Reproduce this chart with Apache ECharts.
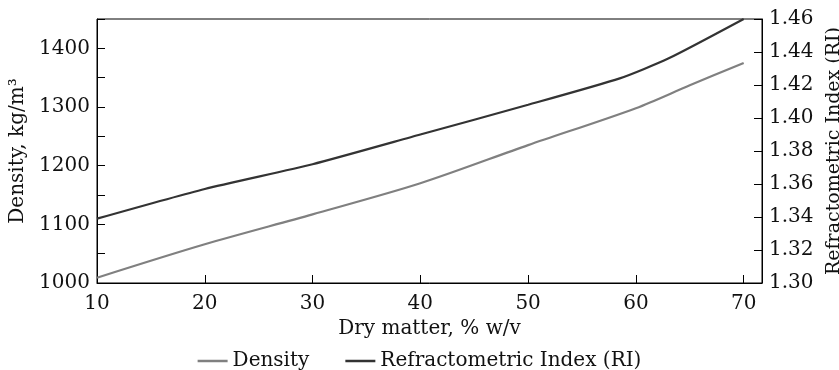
<!DOCTYPE html>
<html>
<head>
<meta charset="utf-8">
<script src="https://cdn.jsdelivr.net/npm/echarts@6/dist/echarts.min.js"></script>
<style>html,body{margin:0;padding:0;background:#fff}#c{width:839px;height:370px}</style>
</head>
<body>
<div id="c"></div>
<script>
// Data
const densityX = [10, 20, 30, 40, 50, 60, 65, 70];
const densityY = [1009, 1066, 1117, 1170, 1235, 1298, 1337, 1375];
const riX = [10, 20, 30, 40, 50, 58.5, 63, 70];
const riY = [1.339, 1.357, 1.372, 1.390, 1.408, 1.424, 1.436, 1.460];
const seriesNames = ['Density', 'Refractometric Index (RI)'];
const xName = 'Dry matter, % w/v';
const yLeftName = 'Density, kg/m\u00B3';
const yRightName = 'Refractometric Index (RI)';

const font = 'DejaVu Serif';
const fs = 20;
const txt = '#111';
const chart = echarts.init(document.getElementById('c'), null, {renderer: 'canvas'});
chart.setOption({
  animation: false,
  backgroundColor: '#fff',
  textStyle: {fontFamily: font},
  grid: {left: 97, right: 77, top: 19, bottom: 87, show: true, borderColor: '#000', borderWidth: 1,
    containLabel: false, outerBoundsMode: 'none'},
  legend: {
    data: seriesNames, top: 346, left: 'center', icon: 'rect', itemWidth: 30, itemHeight: 2.5, itemGap: 36,
    textStyle: {fontFamily: font, fontSize: fs, color: txt}
  },
  xAxis: {
    type: 'value', min: 10, max: 71.7, interval: 10,
    name: xName, nameLocation: 'middle', nameGap: 36,
    nameTextStyle: {fontFamily: font, fontSize: fs, color: txt},
    axisLine: {lineStyle: {color: '#000', width: 1}},
    axisTick: {inside: true, length: 8, lineStyle: {color: '#000'}},
    axisLabel: {fontFamily: font, fontSize: fs, color: txt, margin: 11, showMaxLabel: false,
      formatter: v => (Math.abs(v % 10) < 1e-6 ? String(v) : '')},
    splitLine: {show: false}
  },
  yAxis: [{
    type: 'value', min: 1000, max: 1450, interval: 50, position: 'left',
    name: yLeftName, nameLocation: 'middle', nameGap: 66, nameRotate: 90,
    nameTextStyle: {fontFamily: font, fontSize: fs, color: txt},
    axisLine: {show: true, lineStyle: {color: '#000', width: 1}},
    axisTick: {show: true, inside: true, length: 8, lineStyle: {color: '#000'}},
    axisLabel: {fontFamily: font, fontSize: fs, color: txt, margin: 7,
      formatter: v => (v % 100 === 0 ? String(v) : '')},
    splitLine: {show: false}
  }, {
    type: 'value', min: 1.30, max: 1.46, interval: 0.02, position: 'right',
    name: yRightName, nameLocation: 'middle', nameGap: 61, nameRotate: 90,
    nameTextStyle: {fontFamily: font, fontSize: 19, color: txt},
    axisLine: {show: true, lineStyle: {color: '#000', width: 1}},
    axisTick: {show: true, inside: true, length: 8, lineStyle: {color: '#000'}},
    axisLabel: {fontFamily: font, fontSize: fs, color: txt, margin: 7,
      formatter: v => v.toFixed(2)},
    splitLine: {show: false}
  }],
  series: [{
    name: seriesNames[0], type: 'line', yAxisIndex: 0, symbol: 'none', smooth: 0.3,
    data: densityX.map((x, i) => [x, densityY[i]]),
    lineStyle: {color: '#808080', width: 2.2}, itemStyle: {color: '#808080'}
  }, {
    name: seriesNames[1], type: 'line', yAxisIndex: 1, symbol: 'none', smooth: 0.2,
    data: riX.map((x, i) => [x, riY[i]]),
    lineStyle: {color: '#333333', width: 2.2}, itemStyle: {color: '#333333'}
  }]
});
</script>
</body>
</html>
